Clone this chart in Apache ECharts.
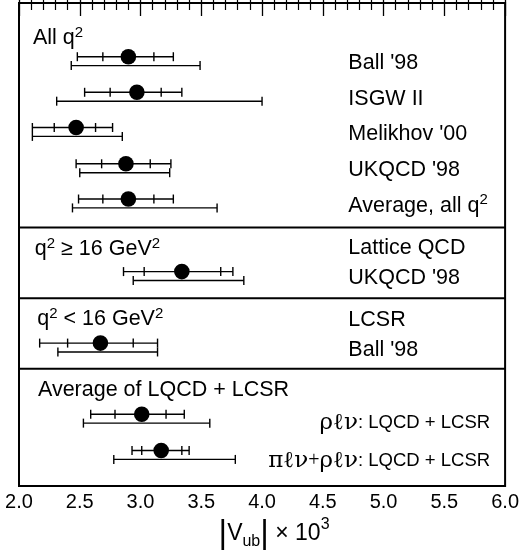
<!DOCTYPE html>
<html>
<head>
<meta charset="utf-8">
<script src="https://cdn.jsdelivr.net/npm/echarts@6/dist/echarts.min.js"></script>
<style>
html, body { margin: 0; padding: 0; background: #fff; }
#main { width: 522px; height: 555px; }
</style>
</head>
<body>
<div id="main"></div>
<script>
// one entry per measurement row, top to bottom
var rowPos  = [1.51, 2.51, 3.50, 4.52, 5.51, 7.55, 9.56, 11.56, 12.58];
var central = [2.90, 2.97, 2.47, 2.88, 2.90, 3.34, 2.67, 3.01, 3.17];
var statLo  = [2.69, 2.75, 2.29, 2.68, 2.69, 3.03, 2.40, 2.79, 3.01];
var statHi  = [3.11, 3.17, 2.63, 3.08, 3.11, 3.66, 2.94, 3.21, 3.34];
var systLo  = [2.48, 2.54, 2.11, 2.47, 2.49, 2.86, 2.17, 2.59, 2.93];
var systHi  = [3.27, 3.34, 2.77, 3.25, 3.27, 3.76, 3.14, 3.36, 3.40];
var totLo   = [2.43, 2.31, 2.11, 2.50, 2.44, 2.94, 2.32, 2.53, 2.78];
var totHi   = [3.49, 4.00, 2.85, 3.24, 3.63, 3.85, 3.14, 3.57, 3.78];

// section separators (same y units as rowPos)
var separators = [6.31, 8.30, 10.28];

// text labels
var labelText = [
  '{n|All q}{sup|2}',
  "{n|Ball '98}",
  '{n|ISGW II}',
  "{n|Melikhov '00}",
  "{n|UKQCD '98}",
  '{n|Average, all q}{sup|2}',
  '{n|q}{sup|2}{n| ≥ 16 GeV}{sup|2}',
  '{n|Lattice QCD}',
  "{n|UKQCD '98}",
  '{n|q}{sup|2}{n| < 16 GeV}{sup|2}',
  '{n|LCSR}',
  "{n|Ball '98}",
  '{n|Average of LQCD + LCSR}',
  '{g|ρℓν}{s|: LQCD + LCSR}',
  '{g|πℓν}{gp|+}{g|ρℓν}{s|: LQCD + LCSR}'
];
var labelX = [2.115, 4.71, 4.71, 4.71, 4.71, 4.71, 2.13, 4.71, 4.71, 2.15, 4.71, 4.71, 2.156, 5.877, 5.877];
var labelY = [0.98, 1.70, 2.70, 3.69, 4.71, 5.70, 6.92, 6.88, 7.74, 8.88, 8.91, 9.76, 10.88, 11.80, 12.88];
var labelAlign = ['left', 'left', 'left', 'left', 'left', 'left', 'left', 'left', 'left', 'left', 'left', 'left', 'left', 'right', 'right'];

var xMin = 2.0, xMax = 6.0, xStep = 0.5;
var yMax = 13.58;
var lowerGap = 0.25;

var richStyles = {
  n: { fontSize: 21.5, lineHeight: 26, fontFamily: 'Liberation Sans', color: '#000', verticalAlign: 'middle' },
  s: { fontSize: 18.5, lineHeight: 26, fontFamily: 'Liberation Sans', color: '#000', verticalAlign: 'middle' },
  sup: { fontSize: 15, lineHeight: 15, fontFamily: 'Liberation Sans', color: '#000', verticalAlign: 'top' },
  g: { fontSize: 23, lineHeight: 26, fontFamily: 'DejaVu Serif', color: '#000', verticalAlign: 'middle' },
  gp: { fontSize: 20, lineHeight: 26, fontFamily: 'Liberation Serif', color: '#000', verticalAlign: 'middle' }
};

var myChart = echarts.init(document.getElementById('main'));

function renderBars(params, api) {
  var y = api.value(1);
  var c = api.coord([api.value(0), y]);
  var yl = api.coord([api.value(0), y + lowerGap])[1];
  var px = function (v) { return api.coord([v, y])[0]; };
  var s1 = px(api.value(2)), s2 = px(api.value(3));
  var a = px(api.value(4)), b = px(api.value(5));
  var t1 = px(api.value(6)), t2 = px(api.value(7));
  var h = 4.5;
  var ln = function (x1, y1, x2, y2) {
    return { type: 'line', shape: { x1: x1, y1: y1, x2: x2, y2: y2 }, style: { stroke: '#000', lineWidth: 1.4 } };
  };
  var ch = [
    ln(a, c[1], b, c[1]),
    ln(a, c[1] - h, a, c[1] + h),
    ln(b, c[1] - h, b, c[1] + h),
    ln(s1, c[1] - h, s1, c[1] + h),
    ln(s2, c[1] - h, s2, c[1] + h),
    ln(t1, yl, t2, yl),
    ln(t1, yl - h, t1, yl + h),
    ln(t2, yl - h, t2, yl + h),
    { type: 'circle', shape: { cx: c[0], cy: c[1], r: 7.8 }, style: { fill: '#000' } }
  ];
  return { type: 'group', children: ch };
}

function renderSep(params, api) {
  var p1 = api.coord([xMin, api.value(0)]);
  var p2 = api.coord([xMax, api.value(0)]);
  return { type: 'line', shape: { x1: p1[0], y1: p1[1], x2: p2[0], y2: p2[1] }, style: { stroke: '#000', lineWidth: 2 } };
}

function renderLabel(params, api) {
  var p = api.coord([api.value(0), api.value(1)]);
  return {
    type: 'text', x: p[0], y: p[1],
    style: {
      text: labelText[params.dataIndex],
      rich: richStyles,
      align: labelAlign[params.dataIndex],
      verticalAlign: 'middle'
    }
  };
}

var barData = rowPos.map(function (y, i) {
  return [central[i], y, statLo[i], statHi[i], systLo[i], systHi[i], totLo[i], totHi[i]];
});

var axisCommon = {
  type: 'value', min: xMin, max: xMax, interval: xStep,
  axisLine: { show: true, lineStyle: { color: '#000', width: 2 } },
  axisTick: { show: true, inside: true, length: 13, lineStyle: { color: '#000', width: 1.3 } },
  minorTick: { show: true, splitNumber: 5, length: 7, lineStyle: { color: '#000', width: 1.2 } },
  splitLine: { show: false }
};

myChart.setOption({
  animation: false,
  grid: { left: 19, right: 16, top: 3, bottom: 66, show: true, borderColor: '#000', borderWidth: 2 },
  xAxis: [
    Object.assign({}, axisCommon, {
      position: 'bottom',
      axisLabel: {
        color: '#000', fontSize: 20, fontFamily: 'Liberation Sans', margin: 6,
        formatter: function (v) { return v.toFixed(1); }
      },
      name: '{bar||}{v|V}{sub|ub}{bar||}{v| × 10}{sup|3}',
      nameLocation: 'middle',
      nameGap: 28,
      nameTextStyle: {
        padding: [0, 0, 0, 24],
        rich: {
          bar: { fontSize: 33, lineHeight: 33, fontFamily: 'Liberation Sans', color: '#000', verticalAlign: 'middle' },
          v: { fontSize: 23, lineHeight: 26, fontFamily: 'Liberation Sans', color: '#000', verticalAlign: 'middle' },
          sub: { fontSize: 16, lineHeight: 16, fontFamily: 'Liberation Sans', color: '#000', verticalAlign: 'bottom' },
          sup: { fontSize: 16, lineHeight: 16, fontFamily: 'Liberation Sans', color: '#000', verticalAlign: 'top' }
        }
      }
    }),
    Object.assign({}, axisCommon, { position: 'top', axisLabel: { show: false } })
  ],
  yAxis: { type: 'value', min: 0, max: yMax, inverse: true, show: false },
  series: [
    { type: 'custom', renderItem: renderSep, data: separators.map(function (s) { return [s]; }), encode: { y: 0 }, silent: true },
    { type: 'custom', renderItem: renderBars, data: barData, encode: { x: 0, y: 1 }, silent: true },
    {
      type: 'custom', renderItem: renderLabel, silent: true,
      data: labelX.map(function (x, i) { return [x, labelY[i]]; }), encode: { x: 0, y: 1 }
    }
  ]
});
</script>
</body>
</html>
